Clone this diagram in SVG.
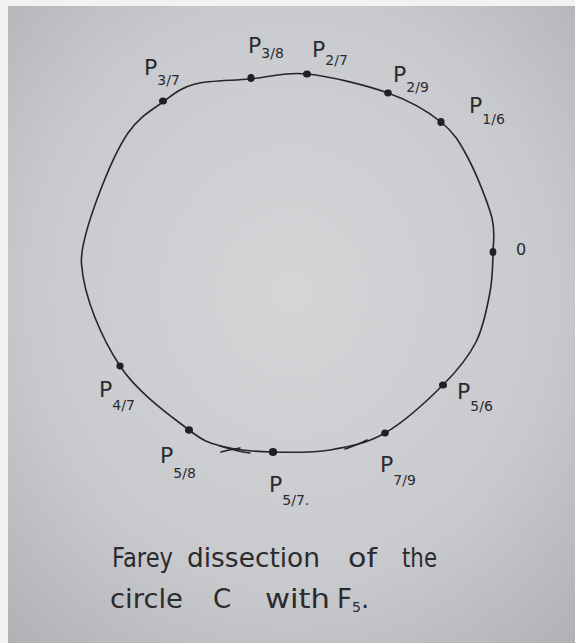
<svg xmlns="http://www.w3.org/2000/svg" width="575" height="643" viewBox="0 0 575 643">
<defs>
<radialGradient id="paper" cx="0.5" cy="0.45" r="0.75">
<stop offset="0" stop-color="#d4d5d7"/>
<stop offset="0.6" stop-color="#c9cacd"/>
<stop offset="1" stop-color="#b0b1b4"/>
</radialGradient>
<style>
.ink{fill:none;stroke:#26262b;stroke-width:1.6;stroke-linecap:round;stroke-linejoin:round}
.dot{fill:#1f1f24}
.lbl{font-family:"DejaVu Sans","Liberation Sans",sans-serif;fill:#2a2a2f;font-size:22px}
.sub{font-size:14px}
.cap{font-family:"DejaVu Sans","Liberation Sans",sans-serif;fill:#2a2a2f;font-size:26px}
</style>
</defs>
<rect x="0" y="0" width="575" height="643" fill="#f2f2f2"/>
<rect x="8" y="6" width="567" height="637" fill="url(#paper)"/>
<g id="connectors">
<path id="circle-C" class="ink" d="M307,74 C330,76.3 365.7,85 388,93 C410.3,101 427.7,111.2 441,122 C454.3,132.8 459.5,142 468,158 C476.5,174 487.8,202.3 492,218 C495.5,233.7 493.3,239.7 493,252 C492.7,264.3 492.8,277 490,292 C487.2,307 483.8,326.5 476,342 C468.2,357.5 458.2,369.8 443,385 C427.8,400.2 403.8,422.2 385,433 C366.2,443.8 348.8,446.8 330,450 C311.2,453.2 289.5,452.5 272,452 C254.5,451.5 238.8,450.7 225,447 C211.2,443.3 206.5,443.5 189,430 C171.5,416.5 138,393.3 120,366 C102,338.7 84,298 81.5,264 C79.5,237 111.2,157.5 128,133 C139.2,116.7 151.8,110.2 163,102 C174.2,93.8 180.5,87.8 195,84 C209.5,80.2 231.3,80.7 250,79 C268.7,77.3 284,71.7 307,74 Z"/>
<path class="ink" d="M220,446 C230,449 240,452 250,453"/>
<path class="ink" d="M221,452 C228,450 234,449 240,448"/>
<path class="ink" d="M345,449 C353,446 360,444 367,440"/>
</g>
<g id="p37"><ellipse class="dot" cx="163" cy="101" rx="4" ry="3.6"/><text class="lbl" x="144" y="75">P<tspan class="sub" dy="10">3/7</tspan></text></g>
<g id="p38"><ellipse class="dot" cx="251" cy="78" rx="3.6" ry="4"/><text class="lbl" x="248" y="53">P<tspan class="sub" dy="5">3/8</tspan></text></g>
<g id="p27"><ellipse class="dot" cx="307" cy="74" rx="4" ry="3.6"/><text class="lbl" x="312" y="57">P<tspan class="sub" dy="8">2/7</tspan></text></g>
<g id="p29"><ellipse class="dot" cx="388" cy="93" rx="3.8" ry="3.4"/><text class="lbl" x="393" y="82">P<tspan class="sub" dy="10">2/9</tspan></text></g>
<g id="p16"><ellipse class="dot" cx="441" cy="122" rx="3.6" ry="4"/><text class="lbl" x="469" y="113">P<tspan class="sub" dy="11">1/6</tspan></text></g>
<g id="p0"><ellipse class="dot" cx="493" cy="252" rx="3.4" ry="4"/><text class="lbl" x="516" y="255" style="font-size:16px">0</text></g>
<g id="p56"><ellipse class="dot" cx="443" cy="385" rx="4" ry="3.6"/><text class="lbl" x="457" y="399">P<tspan class="sub" dy="12">5/6</tspan></text></g>
<g id="p79"><ellipse class="dot" cx="385" cy="433" rx="3.8" ry="3.6"/><text class="lbl" x="380" y="472">P<tspan class="sub" dy="13">7/9</tspan></text></g>
<g id="p57"><ellipse class="dot" cx="273" cy="452" rx="4.2" ry="4"/><text class="lbl" x="269" y="492">P<tspan class="sub" dy="13">5/7.</tspan></text></g>
<g id="p58"><ellipse class="dot" cx="189" cy="430" rx="4" ry="3.8"/><text class="lbl" x="160" y="463">P<tspan class="sub" dy="15">5/8</tspan></text></g>
<g id="p47"><ellipse class="dot" cx="120" cy="366" rx="3.6" ry="3.4"/><text class="lbl" x="99" y="397">P<tspan class="sub" dy="13">4/7</tspan></text></g>
<g id="caption">
<text class="cap" y="567"><tspan x="112" textLength="61" lengthAdjust="spacingAndGlyphs">Farey</tspan><tspan x="187" textLength="133" lengthAdjust="spacingAndGlyphs">dissection</tspan><tspan x="348" textLength="29" lengthAdjust="spacingAndGlyphs">of</tspan><tspan x="402" textLength="35" lengthAdjust="spacingAndGlyphs">the</tspan></text>
<text class="cap" y="608"><tspan x="110" textLength="73" lengthAdjust="spacingAndGlyphs">circle</tspan><tspan x="213">C</tspan><tspan x="265" textLength="65" lengthAdjust="spacingAndGlyphs">with</tspan><tspan x="337">F</tspan><tspan style="font-size:14px" dy="4">5</tspan><tspan dy="-4">.</tspan></text>
</g>
</svg>
